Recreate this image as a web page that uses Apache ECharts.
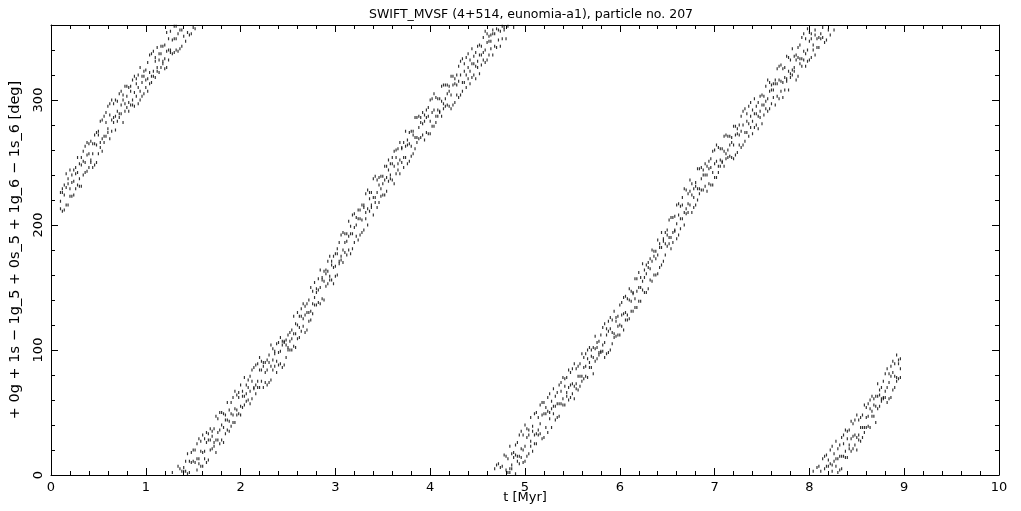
<!DOCTYPE html>
<html><head><meta charset="utf-8">
<script src="https://cdn.jsdelivr.net/npm/echarts@6/dist/echarts.min.js"></script>
<style>html,body{margin:0;padding:0;background:#fff}#c{width:1021px;height:511px}</style>
</head><body><div id="c"></div><script>
const titleText = 'SWIFT_MVSF (4+514, eunomia-a1), particle no. 207';
const xName = 't [Myr]';
const yName = '+ 0g + 1s \u2212 1g_5 + 0s_5 + 1g_6 \u2212 1s_6 [deg]';
const yMajor = [0, 100, 200, 300];
const yMinor = [20, 40, 60, 80, 120, 140, 160, 180, 220, 240, 260, 280, 320, 340];

// rows: [t (Myr), angle values (deg, unwrapped; shown modulo 360)]
const track_0_2 = [
[0.10,213,219,226],[0.12,211,226,229],[0.14,212,224,232],[0.16,216,230,241],[0.18,216,233,237],
[0.20,223,229,244],[0.22,223,234,240],[0.24,224,235,244],[0.26,229,241,246],[0.28,232,242,254],
[0.30,231,237,249],[0.32,231,248,254],[0.34,240,251,259],[0.36,242,250,263],[0.38,243,256,266],
[0.40,246,257,265],[0.42,250,252,267],[0.44,246,257,265],[0.46,248,265,272],[0.48,250,264,274],
[0.50,257,272,275],[0.52,262,266,283],[0.54,259,269,284],[0.56,266,271,287],[0.58,271,282,290],
[0.60,274,277,295],[0.62,269,288,297],[0.64,275,284,300],[0.66,282,286,297],[0.68,276,287,300],
[0.70,283,291,299],[0.72,286,289,305],[0.74,289,296,307],[0.76,282,300,304],[0.78,291,297,311],
[0.80,294,303,311],[0.82,291,298,310],[0.84,296,307,311],[0.86,296,300,316],[0.88,295,306,319],
[0.90,303,313,317],[0.92,297,310,320],[0.94,300,307,326],[0.96,303,314,319],[0.98,305,319,323],
[1.00,310,316,324],[1.02,307,317,330],[1.04,313,322,336],[1.06,314,319,337],[1.08,319,323,339],
[1.10,318,331,334],[1.12,323,326,342],[1.14,322,332,337],[1.16,326,337,343],[1.18,329,331,343],
[1.20,325,333,344],[1.22,326,339,354],[1.24,332,340,349],[1.26,338,340,355],[1.28,337,348,362],
[1.30,338,349,359],[1.32,340,349,359],[1.34,339,353,367],[1.36,341,356,365],[1.38,343,356,363],
[1.40,351,363,366],[1.42,347,363,371],[1.44,354,361,377],[1.46,352,362,371],[1.48,353,370,378],
[1.50,358,371,380],[1.52,357,370,380],[1.54,364,373,385],[1.56,369,373,389],[1.58,367,379,387],
[1.60,367,378,392],[1.62,373,379,389],[1.64,370,386,394],[1.66,372,388,393],[1.68,380,388,397],
[1.70,381,391,395],[1.72,383,386,397],[1.74,378,388,407],[1.76,388,394,405],[1.78,385,396,410],
[1.80,388,400,410],[1.82,386,398,409],[1.84,393,404,408],[1.86,396,404,418],[1.88,395,403,412],
[1.90,399,409,418],[1.92,402,408,422],[1.94,402,413,427],[1.96,408,412,424],[1.98,409,422,426]
];
const track_2_4 = [
[2.00,408,415,432],[2.02,414,423,427],[2.04,416,423,438],[2.06,419,425,432],[2.08,420,430,436],
[2.10,417,427,439],[2.12,421,435,444],[2.14,429,430,446],[2.16,425,432,448],[2.18,430,435,449],
[2.20,430,444,454],[2.22,435,444,451],[2.24,430,447,450],[2.26,434,442,450],[2.28,432,444,452],
[2.30,434,450,456],[2.32,436,447,464],[2.34,444,452,461],[2.36,447,457,459],[2.38,442,451,465],
[2.40,448,458,466],[2.42,449,459,470],[2.44,446,464,467],[2.46,448,466,467],[2.48,454,464,468],
[2.50,460,462,472],[2.52,460,467,474],[2.54,460,469,476],[2.56,463,473,487],[2.58,462,473,481],
[2.60,469,480,490],[2.62,470,478,487],[2.64,475,487,493],[2.66,479,485,497],[2.68,474,488,495],
[2.70,476,490,497],[2.72,483,490,500],[2.74,484,491,510],[2.76,489,497,507],[2.78,496,502,514],
[2.80,496,506,509],[2.82,498,508,517],[2.84,497,510,524],[2.86,501,516,518],[2.88,500,515,523],
[2.90,511,521,524],[2.92,513,523,531],[2.94,516,519,535],[2.96,516,528,531],[2.98,513,526,535],
[3.00,519,527,537],[3.02,520,537,541],[3.04,529,531,546],[3.06,532,535,552],[3.08,530,540,554],
[3.10,538,546,553],[3.12,536,547,553],[3.14,540,551,563],[3.16,537,553,559],[3.18,541,553,568],
[3.20,546,558,569],[3.22,551,560,566],[3.24,548,565,572],[3.26,552,565,572],[3.28,554,564,576],
[3.30,556,574,576],[3.32,565,570,585],[3.34,560,573,588],[3.36,571,581,586],[3.38,574,576,586],
[3.40,568,582,597],[3.42,578,582,599],[3.44,574,586,596],[3.46,578,592,598],[3.48,583,589,599],
[3.50,584,593,599],[3.52,584,596,607],[3.54,587,598,607],[3.56,595,604,612],[3.58,597,600,609],
[3.60,596,609,614],[3.62,593,607,619],[3.64,601,614,620],[3.66,604,609,621],[3.68,601,612,626],
[3.70,610,621,622],[3.72,606,614,626],[3.74,614,623,635],[3.76,609,624,628],[3.78,611,625,634],
[3.80,615,623,635],[3.82,617,632,635],[3.84,621,630,646],[3.86,626,630,646],[3.88,629,638,647],
[3.90,630,642,646],[3.92,632,641,650],[3.94,628,643,648],[3.96,634,646,652],[3.98,633,647,654]
];
const track_4_6 = [
[4.00,633,643,660],[4.02,639,650,661],[4.04,639,652,665],[4.06,642,647,662],[4.08,647,652,661],
[4.10,650,651,661],[4.12,647,659,671],[4.14,653,657,672],[4.16,655,661,672],[4.18,656,665,672],
[4.20,655,667,671],[4.22,653,664,679],[4.24,656,672,679],[4.26,658,673,677],[4.28,664,672,680],
[4.30,662,675,687],[4.32,664,680,691],[4.34,667,674,693],[4.36,674,683,689],[4.38,670,680,694],
[4.40,677,686,697],[4.42,673,683,692],[4.44,678,689,701],[4.46,680,689,695],[4.48,677,687,698],
[4.50,686,691,703],[4.52,681,696,704],[4.54,688,696,703],[4.56,692,698,710],[4.58,690,700,715],
[4.60,692,706,713],[4.62,696,707,711],[4.64,701,707,712],[4.66,696,713,716],[4.68,703,713,725],
[4.70,702,717,728],[4.72,708,716,729],[4.74,703,715,726],[4.76,709,719,727],[4.78,716,718,736],
[4.80,709,724,735],[4.82,719,722,733],[4.84,722,725,743],[4.86,725,728,737],[4.88,718,734,738],
[4.90,721,736,744],[4.92,731,735,746],[4.94,729,735,752],[4.96,734,741,755],[4.98,730,740,752],
[5.00,731,743,760],[5.02,735,750,757],[5.04,737,752,756],[5.06,743,747,766],[5.08,739,755,759],
[5.10,745,752,769],[5.12,745,753,770],[5.14,752,756,766],[5.16,753,761,776],[5.18,749,768,778],
[5.20,750,769,778],[5.22,758,769,774],[5.24,754,771,782],[5.26,765,770,785],[5.28,758,773,779],
[5.30,769,775,789],[5.32,764,775,783],[5.34,766,777,786],[5.36,767,777,792],[5.38,777,787,794],
[5.40,776,781,798],[5.42,776,791,797],[5.44,783,786,798],[5.46,780,790,804],[5.48,782,792,802],
[5.50,785,793,805],[5.52,781,791,809],[5.54,789,793,805],[5.56,788,799,807],[5.58,791,799,809],
[5.60,795,799,817],[5.62,797,806,814],[5.64,799,807,817],[5.66,798,813,820],[5.68,806,810,822],
[5.70,806,815,820],[5.72,801,814,822],[5.74,811,821,831],[5.76,813,822,826],[5.78,816,818,827],
[5.80,818,819,832],[5.82,819,824,838],[5.84,814,826,841],[5.86,817,832,837],[5.88,818,835,843],
[5.90,820,837,846],[5.92,825,834,844],[5.94,830,833,851],[5.96,831,843,846],[5.98,832,839,847]
];
const track_6_8 = [
[6.00,832,840,856],[6.02,839,848,858],[6.04,836,849,862],[6.06,844,850,863],[6.08,844,848,861],
[6.10,845,860,869],[6.12,851,859,867],[6.14,851,865,866],[6.16,854,861,877],[6.18,854,867,877],
[6.20,859,870,882],[6.22,859,870,878],[6.24,868,875,889],[6.26,866,878,884],[6.28,866,881,888],
[6.30,869,886,890],[6.32,876,885,893],[6.34,875,891,900],[6.36,880,895,899],[6.38,880,893,899],
[6.40,881,896,908],[6.42,886,902,905],[6.44,888,902,914],[6.46,891,907,909],[6.48,896,905,914],
[6.50,903,912,916],[6.52,905,910,924],[6.54,901,910,926],[6.56,906,914,926],[6.58,915,916,927],
[6.60,909,921,936],[6.62,912,928,937],[6.64,917,925,935],[6.66,925,936,942],[6.68,920,930,949],
[6.70,929,933,948],[6.72,930,937,945],[6.74,936,947,956],[6.76,930,944,953],[6.78,934,942,949],
[6.80,936,951,954],[6.82,940,949,965],[6.84,945,949,965],[6.86,948,957,966],[6.88,948,960,964],
[6.90,951,960,969],[6.92,947,960,967],[6.94,953,965,971],[6.96,952,966,973],[6.98,952,962,979],
[7.00,958,969,980],[7.02,958,971,984],[7.04,962,967,982],[7.06,967,972,981],[7.08,970,971,981],
[7.10,967,979,991],[7.12,973,977,992],[7.14,974,980,991],[7.16,975,984,991],[7.18,974,986,990],
[7.20,973,984,999],[7.22,976,992,999],[7.24,978,993,997],[7.26,984,992,1000],[7.28,982,995,1007],
[7.30,984,1000,1011],[7.32,987,994,1013],[7.34,994,1003,1009],[7.36,991,1001,1015],[7.38,998,1007,1018],
[7.40,993,1003,1012],[7.42,998,1009,1021],[7.44,1000,1009,1015],[7.46,997,1007,1018],[7.48,1006,1011,1023],
[7.50,1001,1016,1024],[7.52,1008,1016,1023],[7.54,1013,1019,1031],[7.56,1011,1021,1036],[7.58,1013,1027,1034],
[7.60,1017,1028,1032],[7.62,1022,1028,1033],[7.64,1016,1033,1036],[7.66,1023,1033,1045],[7.68,1021,1036,1047],
[7.70,1027,1035,1048],[7.72,1022,1034,1045],[7.74,1028,1038,1046],[7.76,1035,1037,1055],[7.78,1028,1043,1054],
[7.80,1038,1041,1052],[7.82,1040,1044,1061],[7.84,1043,1046,1055],[7.86,1036,1052,1056],[7.88,1039,1054,1062],
[7.90,1049,1053,1064],[7.92,1047,1053,1070],[7.94,1052,1059,1073],[7.96,1047,1057,1069],[7.98,1051,1060,1077]
];
const track_8_9 = [
[8.00,1052,1067,1074],[8.02,1054,1069,1073],[8.04,1060,1064,1083],[8.06,1056,1072,1076],[8.08,1062,1069,1086],
[8.10,1062,1070,1087],[8.12,1069,1073,1083],[8.14,1070,1078,1093],[8.16,1066,1085,1095],[8.18,1068,1087,1096],
[8.20,1076,1087,1092],[8.22,1072,1089,1100],[8.24,1083,1088,1103],[8.26,1076,1091,1097],[8.28,1087,1093,1107],
[8.30,1082,1093,1101],[8.32,1084,1095,1104],[8.34,1085,1095,1110],[8.36,1095,1105,1112],[8.38,1094,1099,1116],
[8.40,1094,1109,1115],[8.42,1101,1104,1116],[8.44,1099,1109,1123],[8.46,1101,1111,1121],[8.48,1104,1112,1124],
[8.50,1100,1110,1128],[8.52,1108,1112,1124],[8.54,1107,1118,1126],[8.56,1110,1118,1128],[8.58,1114,1118,1136],
[8.60,1118,1126,1134],[8.62,1119,1127,1137],[8.64,1118,1133,1140],[8.66,1127,1131,1143],[8.68,1127,1136,1141],
[8.70,1122,1135,1143],[8.72,1133,1143,1153],[8.74,1135,1144,1148],[8.76,1139,1141,1150],[8.78,1141,1142,1155],
[8.80,1142,1147,1161],[8.82,1138,1150,1165],[8.84,1141,1154,1161],[8.86,1142,1159,1167],[8.88,1148,1162,1171],
[8.90,1150,1159,1169],[8.92,1155,1158,1176],[8.94,1157,1169,1172],[8.96,1158,1165,1173]
];

const points = [];
[track_0_2, track_2_4, track_4_6, track_6_8, track_8_9].forEach(function (tr) {
  tr.forEach(function (r) {
    for (let k = 1; k < r.length; k++) points.push([r[0], ((r[k] % 360) + 360) % 360]);
  });
});

const FONT = 'DejaVu Sans';
const black = '#000';
const lineStyle = { color: black, width: 1 };
function xAx(pos, labels) {
  return {
    type: 'value', position: pos, min: 0, max: 10, interval: 1,
    axisLine: { show: true, onZero: false, lineStyle: lineStyle },
    axisTick: { show: true, inside: true, length: 7, lineStyle: lineStyle },
    minorTick: { show: true, splitNumber: 5, length: 4, lineStyle: lineStyle },
    splitLine: { show: false }, minorSplitLine: { show: false },
    axisLabel: { show: labels, color: black, fontFamily: FONT, fontSize: 13, margin: 6 },
    name: labels ? xName : '', nameLocation: 'middle', nameGap: 16, nameMoveOverlap: false,
    nameTextStyle: { color: black, fontFamily: FONT, fontSize: 13 }
  };
}
function yAx(pos, major, labels) {
  return {
    type: 'value', position: pos, min: 0, max: 360,
    axisLine: { show: major, onZero: false, lineStyle: lineStyle },
    axisTick: { show: true, inside: true, length: major ? 7 : 4, lineStyle: lineStyle,
                customValues: major ? yMajor : yMinor },
    splitLine: { show: false },
    axisLabel: { show: labels, customValues: yMajor, rotate: 90, color: black,
                 fontFamily: FONT, fontSize: 13, margin: 6 },
    name: labels ? yName : '', nameLocation: 'middle', nameGap: 28, nameRotate: 90,
    nameTextStyle: { color: black, fontFamily: FONT, fontSize: 14.5 }
  };
}

const chart = echarts.init(document.getElementById('c'), null, { renderer: 'canvas' });
chart.setOption({
  animation: false,
  backgroundColor: '#fff',
  title: { text: titleText, left: 526, top: 3, textAlign: 'center',
           textStyle: { color: black, fontFamily: FONT, fontSize: 12.5, fontWeight: 'normal' } },
  grid: { left: 51, right: 22, top: 25, bottom: 36, containLabel: false, outerBoundsMode: 'none' },
  xAxis: [xAx('bottom', true), xAx('top', false)],
  yAxis: [yAx('left', true, true), yAx('left', false, false), yAx('right', true, false), yAx('right', false, false)],
  series: [{
    type: 'scatter', xAxisIndex: 0, yAxisIndex: 0,
    data: points, symbol: 'rect', symbolSize: [1.2, 3],
    itemStyle: { color: black }, silent: true
  }]
});
</script></body></html>
